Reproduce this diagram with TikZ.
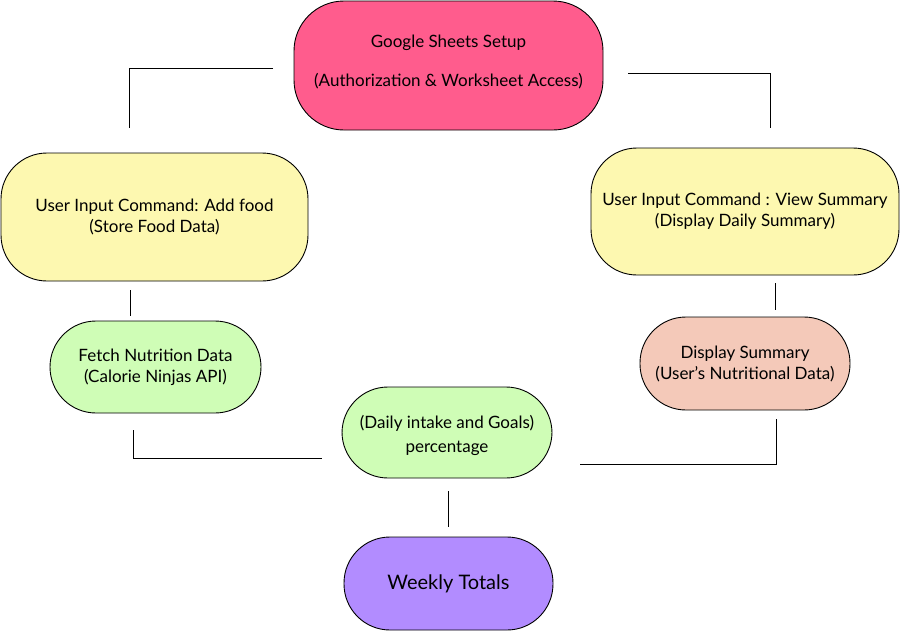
\documentclass[tikz,border=0pt]{standalone}
\usepackage{fontspec}
\setmainfont{Lato}
\usepackage{tikz}

\definecolor{setuppink}{HTML}{FF5C8D}
\definecolor{cmdyellow}{HTML}{FDF8B0}
\definecolor{fetchgreen}{HTML}{CFFDB6}
\definecolor{showsalmon}{HTML}{F4C9B9}
\definecolor{weekpurple}{HTML}{B28CFF}

\tikzset{
	box/.style={draw=black, line width=0.9pt, rounded corners=46pt, align=center,
		inner sep=0pt, font=\fontsize{17}{21}\selectfont},
	link/.style={draw=black, line width=1pt}
}

\begin{document}
\begin{tikzpicture}[x=1pt,y=-1pt]
	\useasboundingbox (0,0) rectangle (900,632);

	% setup
	\node[box, fill=setuppink, minimum width=309pt, minimum height=129pt, rounded corners=50pt]
		(setup) at (448.5,65.5) {};
	\node[font=\fontsize{17}{21}\selectfont, align=center] (setuptxt) at (448.5,61.5)
		{Google Sheets Setup\\[18pt](Authorization \& Worksheet Access)};

	% commands
	\node[box, fill=cmdyellow, minimum width=307pt, minimum height=128pt]
		(addfood) at (154.5,217) {User Input Command: Add food\\(Store Food Data)};
	\node[box, fill=cmdyellow, minimum width=308pt, minimum height=127pt]
		(viewsum) at (745,211.5) {User Input Command : View Summary\\(Display Daily Summary)};

	% middle row
	\node[box, fill=fetchgreen, minimum width=211pt, minimum height=92pt]
		(fetch) at (155.5,367) {Fetch Nutrition Data\\(Calorie Ninjas API)};
	\node[box, fill=showsalmon, minimum width=210pt, minimum height=93pt]
		(display) at (745,363.5) {Display Summary\\(User’s Nutritional Data)};
	\node[box, fill=fetchgreen, minimum width=210pt, minimum height=91pt]
		(goals) at (447,432.5) {};
	\node[font=\fontsize{17}{21}\selectfont, align=center] (goalstxt) at (447,435.5)
		{(Daily intake and Goals)\\[3pt]percentage};

	% totals
	\node[box, fill=weekpurple, minimum width=209pt, minimum height=93pt, font=\fontsize{20}{24}\selectfont]
		(weekly) at (448.5,583.5) {Weekly Totals};

	% link ends
	\coordinate (sL) at (273,68);
	\coordinate (aT) at (129,128);
	\coordinate (sR) at (628,73);
	\coordinate (vT) at (770,128);
	\coordinate (aB) at (130,290);
	\coordinate (fT) at (130,316);
	\coordinate (fB) at (133,430);
	\coordinate (gL) at (322,458);
	\coordinate (gR) at (580,464);
	\coordinate (dB) at (776,419);
	\coordinate (vB) at (775,283);
	\coordinate (dT) at (775,310);
	\coordinate (gB) at (448,491);
	\coordinate (wT) at (448,527);

	% links
	\draw[link] (sL) -| (aT);
	\draw[link] (sR) -| (vT);
	\draw[link] (aB) -- (fT);
	\draw[link] (fB) |- (gL);
	\draw[link] (gR) -| (dB);
	\draw[link] (vB) -- (dT);
	\draw[link] (gB) -- (wT);
\end{tikzpicture}
\end{document}
